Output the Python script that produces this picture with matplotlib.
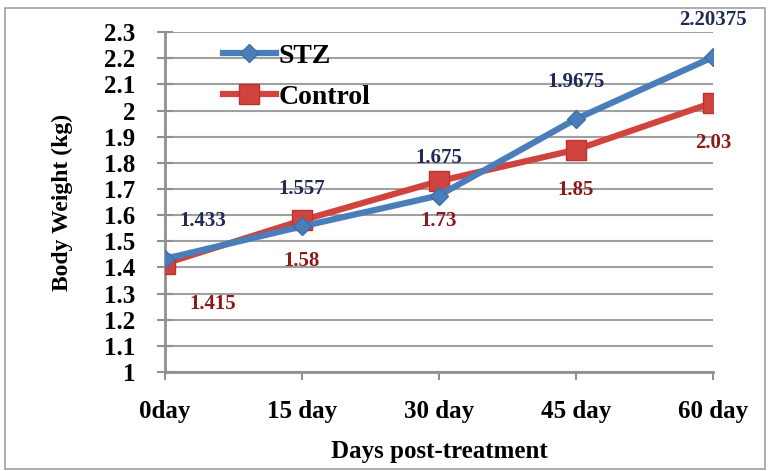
import numpy as np
import matplotlib.pyplot as plt
from matplotlib.patches import Rectangle

# Data
days = ['0day', '15 day', '30 day', '45 day', '60 day']
stz = [1.433, 1.557, 1.675, 1.9675, 2.20375]
control = [1.415, 1.58, 1.73, 1.85, 2.03]
stz_labels = ['1.433', '1.557', '1.675', '1.9675', '2.20375']
control_labels = ['1.415', '1.58', '1.73', '1.85', '2.03']
yticks = [1, 1.1, 1.2, 1.3, 1.4, 1.5, 1.6, 1.7, 1.8, 1.9, 2, 2.1, 2.2, 2.3]

plt.rcParams['font.family'] = ['Liberation Serif', 'DejaVu Serif']
plt.rcParams['font.weight'] = 'bold'

fig = plt.figure(figsize=(7.69, 4.71), dpi=100)
ax = fig.add_axes([0.2146, 0.21, 0.7124, 0.722])

x = np.arange(len(days))
ax.plot(x, stz, color='#4a7ebb', lw=4.5, marker='D', ms=9, mec='#3c6ea8',
        label='STZ', zorder=4)
ax.plot(x, control, color='#d0433f', lw=4.5, marker='s', ms=15, mec='#c0302c',
        label='Control', zorder=3)

# data labels
sx = [0.2, 0, 0, 0, 0]
for i in range(len(days)):
    ax.annotate(stz_labels[i], (x[i], stz[i]), xytext=(sx[i] * 137, 27),
                textcoords='offset points', ha='center', va='center',
                color='#1f2a55', fontsize=15, fontweight='bold')
    ax.annotate(control_labels[i], (x[i], control[i]), xytext=(sx[i] * 170, -29),
                textcoords='offset points', ha='center', va='center',
                color='#8b1a1a', fontsize=15, fontweight='bold')

ax.set_xlim(0, 4)
ax.set_ylim(1, 2.3)
ax.set_yticks(yticks)
ax.set_yticklabels(['%g' % v for v in yticks])
ax.set_xticks(x)
ax.set_xticklabels(days)
ax.grid(axis='y', color='#a0a0a0', lw=1.5)
ax.set_axisbelow(True)

for s in ['top', 'right']:
    ax.spines[s].set_visible(False)
for s in ['left', 'bottom']:
    ax.spines[s].set_color('#909090')
    ax.spines[s].set_linewidth(2)

ax.tick_params(axis='y', direction='inout', length=11, width=1.5, color='#909090',
               labelsize=18, pad=16)
ax.tick_params(axis='x', direction='out', length=6, width=1.5, color='#909090',
               labelsize=18, pad=14)

ax.set_ylabel('Body Weight (kg)', fontsize=17, fontweight='bold', labelpad=22)
ax.set_xlabel('Days post-treatment', fontsize=18, fontweight='bold', labelpad=12)

ax.legend(loc='upper left', bbox_to_anchor=(0.06, 1.04), frameon=False,
          handlelength=1.9, handletextpad=0.1, labelspacing=0.55,
          prop={'weight': 'bold', 'size': 20})

fig.patches.append(Rectangle((0.007, 0.005), 0.988, 0.978, transform=fig.transFigure,
                             fill=False, edgecolor='#a0a0a0', lw=1.2))

fig.savefig('out.png', dpi=100)
